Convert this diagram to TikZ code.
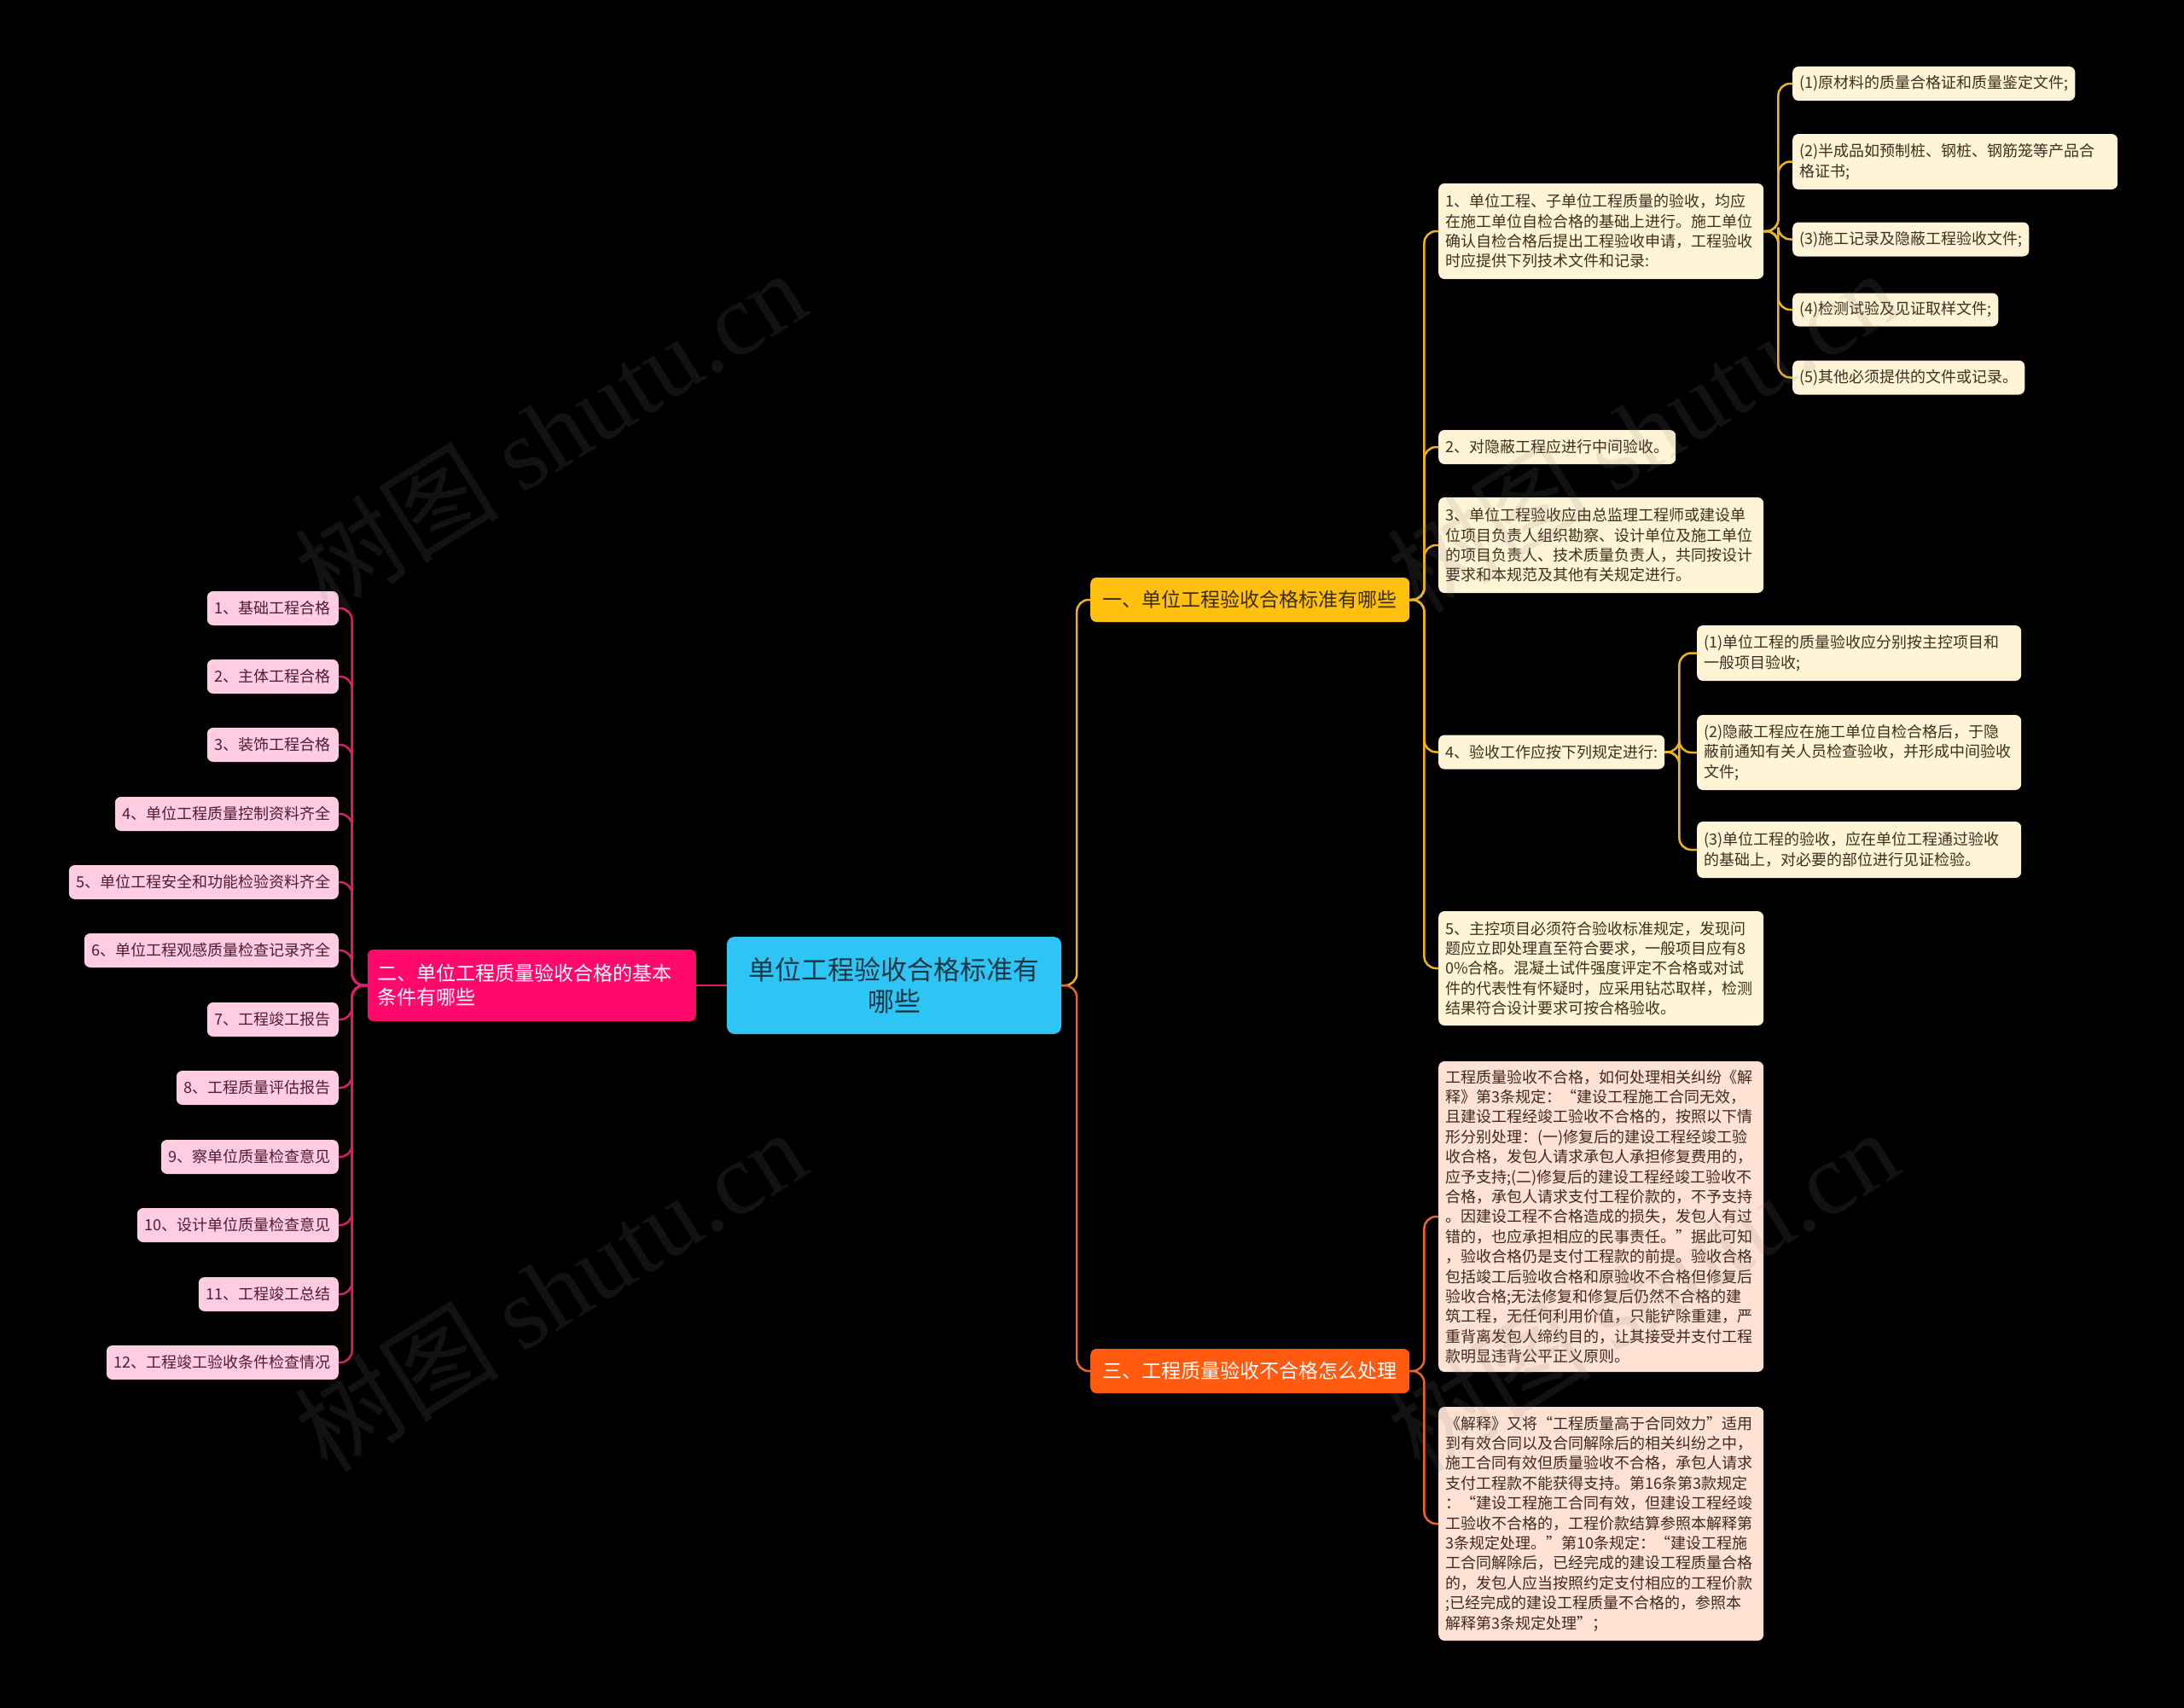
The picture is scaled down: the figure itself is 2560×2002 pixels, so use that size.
\documentclass[tikz,border=0pt]{standalone}
\usepackage{fontspec}
\setmainfont{Noto Sans CJK SC}
\newfontfamily\wmserif{Liberation Serif}
\definecolor{rootc}{HTML}{2EC4F3}
\definecolor{roott}{HTML}{1B3645}
\definecolor{pinkb}{HTML}{FF0A6C}
\definecolor{pinkl}{HTML}{FFCCE1}
\definecolor{pinkt}{HTML}{4A1F35}
\definecolor{pinkline}{HTML}{DE1D68}
\definecolor{yelb}{HTML}{FFC010}
\definecolor{yelt}{HTML}{3A2C05}
\definecolor{creamc}{HTML}{FFF4D6}
\definecolor{creamt}{HTML}{3C3020}
\definecolor{yelline}{HTML}{EDB420}
\definecolor{orab}{HTML}{FF5A10}
\definecolor{peachc}{HTML}{FFE2D4}
\definecolor{peacht}{HTML}{3D2A20}
\definecolor{oraline}{HTML}{E8652A}
\tikzset{
  boxbase/.style={rounded corners=7pt, inner ysep=4pt, inner xsep=8pt, font=\fontsize{18}{23.4}\selectfont},
  cream/.style={boxbase, fill=creamc, text=creamt, align=left, anchor=west},
  peach/.style={boxbase, fill=peachc, text=peacht, align=left, anchor=west},
  leafbox/.style={boxbase, fill=pinkl, text=pinkt, anchor=east, inner xsep=9pt, minimum height=40pt},
  branchbox/.style={rounded corners=7pt, inner xsep=12pt, font=\fontsize{23}{28}\selectfont, minimum height=52pt, minimum width=374pt, anchor=west},
  yconn/.style={draw=yelline, line width=2.5pt, rounded corners=14pt},
  oconn/.style={draw=oraline, line width=2.5pt, rounded corners=14pt},
  pconn/.style={draw=pinkline, line width=2.5pt, rounded corners=14pt},
  wm/.style={rotate=32, text=gray, opacity=0.14, font=\fontsize{120}{120}\selectfont},
}
\begin{document}
\begin{tikzpicture}[x=1pt,y=-1pt]
\useasboundingbox (0,0) rectangle (2560,2002);
\fill[black] (0,0) rectangle (2560,2002);

% root
\node[fill=rootc, text=roott, rounded corners=9pt, minimum width=392pt, minimum height=114pt, text width=370pt, align=center, font=\fontsize{31}{37}\selectfont] (root) at (1048,1155) {单位工程验收合格标准有\\哪些};

% main branches
\node[fill=pinkb, text=white, rounded corners=7pt, anchor=east, inner xsep=12pt, text width=361pt, minimum height=84pt, align=left, font=\fontsize{23}{28}\selectfont] (lb) at (816,1155) {二、单位工程质量验收合格的基本\\条件有哪些};
\node[branchbox, fill=yelb, text=yelt] (b1) at (1278,703) {一、单位工程验收合格标准有哪些};
\node[branchbox, fill=orab, text=white] (b3) at (1278,1607) {三、工程质量验收不合格怎么处理};

% left leaves
\node[leafbox] (l1) at (397,713) {1、基础工程合格};
\node[leafbox] (l2) at (397,793) {2、主体工程合格};
\node[leafbox] (l3) at (397,873) {3、装饰工程合格};
\node[leafbox] (l4) at (397,954) {4、单位工程质量控制资料齐全};
\node[leafbox] (l5) at (397,1034) {5、单位工程安全和功能检验资料齐全};
\node[leafbox] (l6) at (397,1114) {6、单位工程观感质量检查记录齐全};
\node[leafbox] (l7) at (397,1195) {7、工程竣工报告};
\node[leafbox] (l8) at (397,1275) {8、工程质量评估报告};
\node[leafbox] (l9) at (397,1356) {9、察单位质量检查意见};
\node[leafbox] (l10) at (397,1436) {10、设计单位质量检查意见};
\node[leafbox] (l11) at (397,1517) {11、工程竣工总结};
\node[leafbox] (l12) at (397,1597) {12、工程竣工验收条件检查情况};

% branch 1 children
\node[cream, text width=365pt, minimum height=112pt] (c1) at (1686,271) {1、单位工程、子单位工程质量的验收，均应\\在施工单位自检合格的基础上进行。施工单位\\确认自检合格后提出工程验收申请，工程验收\\时应提供下列技术文件和记录:};
\node[cream, minimum height=40pt] (c2) at (1686,524) {2、对隐蔽工程应进行中间验收。};
\node[cream, text width=365pt, minimum height=112pt] (c3) at (1686,639) {3、单位工程验收应由总监理工程师或建设单\\位项目负责人组织勘察、设计单位及施工单位\\的项目负责人、技术质量负责人，共同按设计\\要求和本规范及其他有关规定进行。};
\node[cream, minimum height=40pt] (c4) at (1686,881.5) {4、验收工作应按下列规定进行:};
\node[cream, text width=365pt, minimum height=134pt] (c5) at (1686,1135) {5、主控项目必须符合验收标准规定，发现问\\题应立即处理直至符合要求，一般项目应有8\\0\%合格。混凝土试件强度评定不合格或对试\\件的代表性有怀疑时，应采用钻芯取样，检测\\结果符合设计要求可按合格验收。};

% children of c1
\node[cream, minimum height=40pt] (s1) at (2101,98) {(1)原材料的质量合格证和质量鉴定文件;};
\node[cream, text width=365pt, minimum height=65pt] (s2) at (2101,189.5) {(2)半成品如预制桩、钢桩、钢筋笼等产品合\\格证书;};
\node[cream, minimum height=40pt] (s3) at (2101,280.5) {(3)施工记录及隐蔽工程验收文件;};
\node[cream, minimum height=39pt] (s4) at (2101,363) {(4)检测试验及见证取样文件;};
\node[cream, minimum height=40pt] (s5) at (2101,442.5) {(5)其他必须提供的文件或记录。};

% children of c4
\node[cream, text width=364pt, minimum height=65pt] (t1) at (1989,765.5) {(1)单位工程的质量验收应分别按主控项目和\\一般项目验收;};
\node[cream, text width=364pt, minimum height=88pt] (t2) at (1989,882) {(2)隐蔽工程应在施工单位自检合格后，于隐\\蔽前通知有关人员检查验收，并形成中间验收\\文件;};
\node[cream, text width=364pt, minimum height=66pt] (t3) at (1989,996) {(3)单位工程的验收，应在单位工程通过验收\\的基础上，对必要的部位进行见证检验。};

% branch 3 children
\node[peach, text width=365pt, minimum height=364pt] (p1) at (1686,1426) {工程质量验收不合格，如何处理相关纠纷《解\\释》第3条规定：“建设工程施工合同无效，\\且建设工程经竣工验收不合格的，按照以下情\\形分别处理：(一)修复后的建设工程经竣工验\\收合格，发包人请求承包人承担修复费用的，\\应予支持;(二)修复后的建设工程经竣工验收不\\合格，承包人请求支付工程价款的，不予支持\\。因建设工程不合格造成的损失，发包人有过\\错的，也应承担相应的民事责任。”据此可知\\，验收合格仍是支付工程款的前提。验收合格\\包括竣工后验收合格和原验收不合格但修复后\\验收合格;无法修复和修复后仍然不合格的建\\筑工程，无任何利用价值，只能铲除重建，严\\重背离发包人缔约目的，让其接受并支付工程\\款明显违背公平正义原则。};
\node[peach, text width=365pt, minimum height=274pt] (p2) at (1686,1786) {《解释》又将“工程质量高于合同效力”适用\\到有效合同以及合同解除后的相关纠纷之中，\\施工合同有效但质量验收不合格，承包人请求\\支付工程款不能获得支持。第16条第3款规定\\：“建设工程施工合同有效，但建设工程经竣\\工验收不合格的，工程价款结算参照本解释第\\3条规定处理。”第10条规定：“建设工程施\\工合同解除后，已经完成的建设工程质量合格\\的，发包人应当按照约定支付相应的工程价款\\;已经完成的建设工程质量不合格的，参照本\\解释第3条规定处理”；};

% connectors
\draw[pconn] (root.west) -- (lb.east);
\foreach \l in {l1,l2,l3,l4,l5,l6,l7,l8,l9,l10,l11,l12}
  \draw[pconn] (lb.west) -- ++(-18,0) |- (\l.east);
\draw[yconn] (root.east) -- ++(18,0) |- (b1.west);
\draw[oconn] (root.east) -- ++(18,0) |- (b3.west);
\foreach \c in {c1,c2,c3,c4,c5}
  \draw[yconn] (b1.east) -- ++(17,0) |- (\c.west);
\foreach \s in {s1,s2,s3,s4,s5}
  \draw[yconn] (c1.east) -- ++(17,0) |- (\s.west);
\foreach \t in {t1,t2,t3}
  \draw[yconn] (c4.east) -- ++(17,0) |- (\t.west);
\foreach \p in {p1,p2}
  \draw[oconn] (b3.east) -- ++(17,0) |- (\p.west);

% watermarks
\node[wm] (w1) at (645,505) {树图 {\wmserif shutu.cn}};
\node[wm] (w2) at (645,1512) {树图 {\wmserif shutu.cn}};
\node[wm] (w3) at (1925,505) {树图 {\wmserif shutu.cn}};
\node[wm] (w4) at (1925,1512) {树图 {\wmserif shutu.cn}};
\end{tikzpicture}
\end{document}
